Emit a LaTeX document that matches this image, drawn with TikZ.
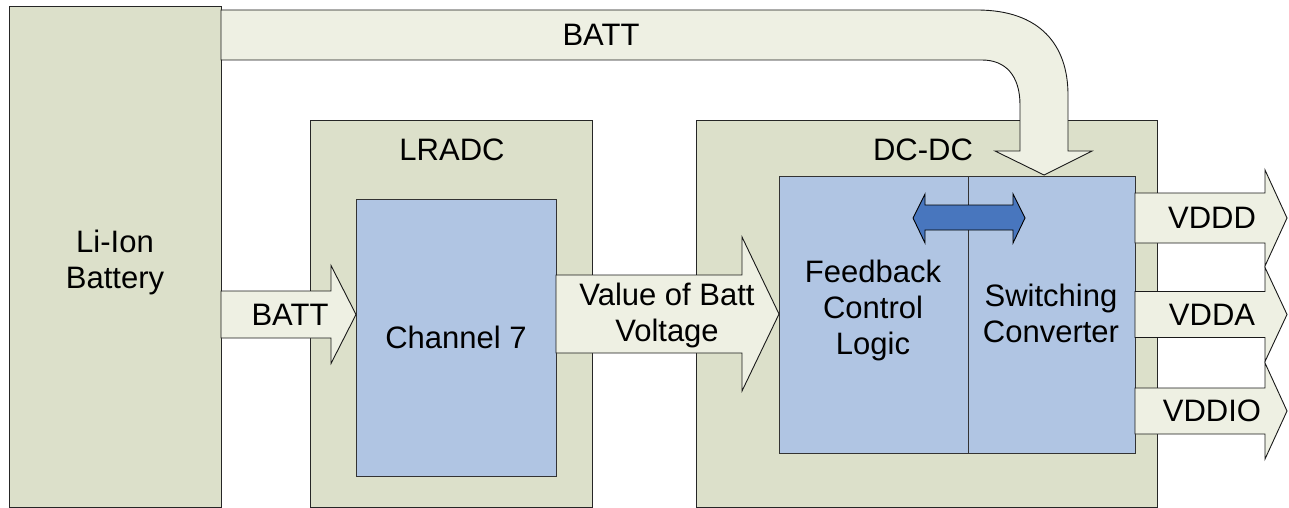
\documentclass[tikz,border=0pt]{standalone}
\usepackage{fontspec}
\setmainfont{Liberation Sans}
\usetikzlibrary{calc}

\definecolor{boxgreen}{RGB}{220,224,202}
\definecolor{arrowgreen}{RGB}{238,240,227}
\definecolor{blockblue}{RGB}{176,197,227}
\definecolor{darkblue}{RGB}{72,118,190}

\tikzset{
  outerbox/.style={draw=black!85, fill=boxgreen, line width=1pt, anchor=north west, inner sep=0pt, outer sep=0pt},
  innerbox/.style={draw=black!80, fill=blockblue, line width=1pt, anchor=north west, inner sep=0pt, outer sep=0pt},
  arrowfill/.style={draw=black!90, fill=arrowgreen, line width=0.9pt, line join=miter},
  lbl/.style={font=\fontsize{31}{36}\selectfont, align=center, inner sep=0pt},
}

% block arrow: #1 start, #2 tip, #3 half shaft, #4 half head, #5 head length
\newcommand{\blockarrow}[5]{%
  \draw[arrowfill] ($(#1)+(0,-#3)$) -- ($(#2)+(-#5,-#3)$) -- ($(#2)+(-#5,-#4)$) -- (#2)
    -- ($(#2)+(-#5,#4)$) -- ($(#2)+(-#5,#3)$) -- ($(#1)+(0,#3)$) -- cycle;}

\begin{document}
\begin{tikzpicture}[x=1pt,y=-1pt]
    \useasboundingbox (0,0) rectangle (1289,508);
    % blocks
    \node[outerbox, minimum width=212pt, minimum height=500pt] (batt) at (9,7) {};
    \node[outerbox, minimum width=282pt, minimum height=386pt] (lradc) at (310,121) {};
    \node[outerbox, minimum width=461pt, minimum height=386pt] (dcdc) at (696,121) {};
    \node[innerbox, minimum width=200pt, minimum height=277pt] (ch7) at (356,199) {};
    \node[innerbox, minimum width=356pt, minimum height=277pt] (core) at (779,176) {};
    \draw[black!80, line width=1pt] ($(core.north west)+(189,0)$) -- ($(core.south west)+(189,0)$);

    % battery feed over the top
    \draw[arrowfill] (221,10) -- (977,10) .. controls (1040,10) and (1068,45) .. (1068,95)
        -- (1068,151) -- (1092,151) -- (1044,175) -- (995,151) -- (1020,151) -- (1020,105)
        .. controls (1020,75) and (1005,60) .. (982,60) -- (221,60) -- cycle;

    \coordinate (battout) at (221,314.5);
    \coordinate (ch7in) at (356,314.5);
    \coordinate (ch7out) at (556,314);
    \coordinate (corein) at (779,314);
    \blockarrow{battout}{ch7in}{23.5}{49}{25}
    \blockarrow{ch7out}{corein}{39}{77}{37}

    \coordinate (vddd) at (1287,218);
    \coordinate (vdda) at (1287,314.5);
    \coordinate (vddio) at (1287,411);
    \blockarrow{core.east |- vddd}{vddd}{25}{48}{22}
    \blockarrow{core.east |- vdda}{vdda}{23}{47}{22}
    \blockarrow{core.east |- vddio}{vddio}{23}{48}{22}

    % link between the two halves
    \draw[draw=black, fill=darkblue, line width=0.9pt] (913,218) -- (925,194) -- (925,205)
        -- (1013,205) -- (1013,194) -- (1025,218) -- (1013,243) -- (1013,230) -- (925,230)
        -- (925,243) -- cycle;

    % labels
    \node[lbl] (battlbl) at (115,262) {Li-Ion\\Battery};
    \node[lbl] (lradclbl) at (452,150) {LRADC};
    \node[lbl] (dcdclbl) at (923,150) {DC-DC};
    \node[lbl] (toplbl) at (601,35) {BATT};
    \node[lbl] (inlbl) at (290,315) {BATT};
    \node[lbl] (ch7lbl) at (456,337) {Channel 7};
    \node[lbl] (vallbl) at (667,315) {Value of Batt\\Voltage};
    \node[lbl] (fblbl) at (873,310) {Feedback\\Control\\Logic};
    \node[lbl] (swlbl) at (1051,313) {Switching\\Converter};
    \node[lbl] (vdddlbl) at (1212,218) {VDDD};
    \node[lbl] (vddalbl) at (1212,315) {VDDA};
    \node[lbl] (vddiolbl) at (1212,411) {VDDIO};
\end{tikzpicture}
\end{document}
